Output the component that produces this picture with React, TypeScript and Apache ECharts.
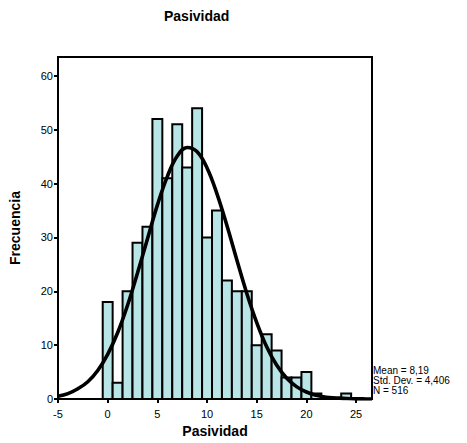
import React, { useEffect, useRef } from "react";
import * as echarts from "echarts";

const binCenters = [0, 1, 2, 3, 4, 5, 6, 7, 8, 9, 10, 11, 12, 13, 14, 15, 16, 17, 18, 19, 20, 21, 24];
const counts = [18, 3, 20, 29, 32, 52, 41, 51, 43, 54, 30, 35, 22, 20, 20, 10, 12, 9, 4, 4, 5, 1, 1];

const curveX = [-5, -4, -3, -2, -1, 0, 1, 2, 3, 4, 5, 6, 7, 8, 9, 10, 11, 12, 13, 14, 15, 16, 17, 18, 19, 20, 21, 22, 23, 24, 25, 26, 26.6];
const curveY = [0.5, 1.0, 1.9, 3.2, 5.3, 8.3, 12.3, 17.4, 23.4, 29.7, 36.0, 41.3, 45.1, 46.7, 45.9, 42.9, 38.1, 32.2, 25.8, 19.6, 14.2, 9.7, 6.3, 3.9, 2.3, 1.3, 0.7, 0.3, 0.2, 0.1, 0.03, 0.01, 0.0];

const titleText = "Pasividad";
const xName = "Pasividad";
const yName = "Frecuencia";
const statsLines = ["Mean = 8,19", "Std. Dev. = 4,406", "N = 516"];

const FONT = "'Liberation Sans', Arial, sans-serif";

export default function App() {
  const ref = useRef<HTMLDivElement>(null);
  useEffect(() => {
    if (!ref.current) return;
    const chart = echarts.init(ref.current, null, { renderer: "svg" });
    const barData = binCenters.map((c, i) => [c, counts[i]]);
    const lineData = curveX.map((x, i) => [x, curveY[i]]);
    const statsGraphics = statsLines.map((t, i) => ({
      type: "text",
      x: 373,
      y: 365 + i * 10,
      style: {
        text: t,
        fill: "#000",
        font: `10px ${FONT}`,
        lineHeight: 10,
        textAlign: "left",
        textVerticalAlign: "top",
      },
    }));
    chart.setOption({
      animation: false,
      backgroundColor: "#ffffff",
      textStyle: { fontFamily: FONT },
      grid: {
        left: 57,
        right: 95,
        top: 57,
        bottom: 42,
        show: true,
        borderColor: "#000",
        borderWidth: 2,
        backgroundColor: "transparent",
      },
      xAxis: {
        type: "value",
        min: -5,
        max: 26.6,
        interval: 5,
        splitLine: { show: false },
        axisLine: { show: true, onZero: false, lineStyle: { color: "#000", width: 2 } },
        axisTick: { show: true, length: 4, lineStyle: { color: "#000", width: 2 } },
        axisLabel: {
          color: "#000",
          fontSize: 11,
          fontFamily: FONT,
          margin: 9,
          showMaxLabel: false,
        },
        name: xName,
        nameLocation: "middle",
        nameGap: 25,
        nameTextStyle: { color: "#000", fontSize: 14, fontWeight: "bold", fontFamily: FONT },
      },
      yAxis: {
        type: "value",
        min: 0,
        max: 63.5,
        interval: 10,
        splitLine: { show: false },
        axisLine: { show: true, onZero: false, lineStyle: { color: "#000", width: 2 } },
        axisTick: { show: true, length: 4, lineStyle: { color: "#000", width: 2 } },
        axisLabel: {
          color: "#000",
          fontSize: 11,
          fontFamily: FONT,
          margin: 5,
          showMaxLabel: false,
        },
        name: yName,
        nameLocation: "middle",
        nameGap: 36,
        nameRotate: 90,
        nameTextStyle: { color: "#000", fontSize: 14, fontWeight: "bold", fontFamily: FONT },
      },
      graphic: [
        {
          type: "text",
          left: 164,
          top: 9,
          style: {
            text: titleText,
            fill: "#000",
            font: `bold 14px ${FONT}`,
          },
        },
        ...statsGraphics,
      ],
      series: [
        {
          type: "custom",
          data: barData,
          clip: true,
          renderItem: (params: any, api: any) => {
            const x = api.value(0);
            const y = api.value(1);
            const p1 = api.coord([x - 0.5, y]);
            const p2 = api.coord([x + 0.5, 0]);
            return {
              type: "rect",
              shape: { x: p1[0], y: p1[1], width: p2[0] - p1[0], height: p2[1] - p1[1] },
              style: { fill: "#b9e5e7", stroke: "#000", lineWidth: 2 },
            };
          },
          z: 2,
        },
        {
          type: "line",
          data: lineData,
          smooth: 0.4,
          showSymbol: false,
          symbol: "none",
          clip: true,
          lineStyle: { color: "#000", width: 3.6 },
          z: 3,
        },
      ],
    });
    return () => chart.dispose();
  }, []);
  return <div ref={ref} style={{ width: 467, height: 443, position: "absolute", left: 0, top: 0 }} />;
}
